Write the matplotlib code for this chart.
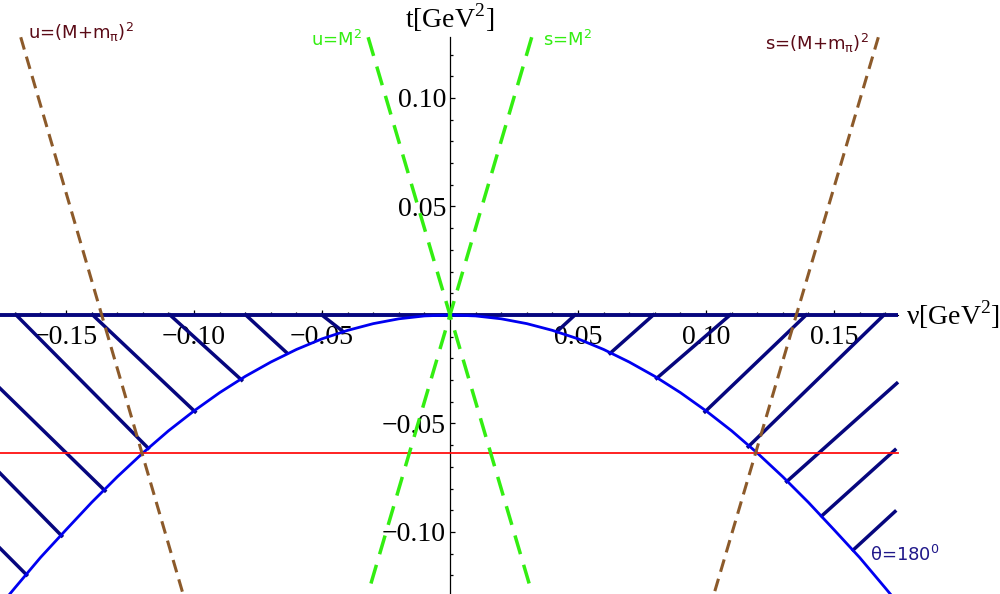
import numpy as np
import matplotlib
matplotlib.use("Agg")
import matplotlib.pyplot as plt

# ---------------------------------------------------------------------------
# data (nu, t in GeV^2)
# ---------------------------------------------------------------------------
# theta = 180 deg boundary, one half (mirrored for nu < 0)
nu_half = [0.00, 0.01, 0.02, 0.03, 0.04, 0.05, 0.06, 0.07, 0.08, 0.09,
           0.10, 0.11, 0.12, 0.13, 0.14, 0.15, 0.16, 0.17, 0.18]
t_half = [0.0, -0.00044, -0.00177, -0.0040, -0.0071, -0.0110, -0.0159,
          -0.0217, -0.0283, -0.0358, -0.0442, -0.0534, -0.0636, -0.0746,
          -0.0864, -0.0990, -0.1118, -0.1258, -0.1400]

# threshold lines (top end, bottom end)
u_thr_nu = [-0.1677, -0.1043]
u_thr_t = [0.128, -0.1286]
s_thr_nu = [0.1673, 0.1031]
s_thr_t = [0.128, -0.1286]
u_pole_nu = [-0.0320, 0.0321]
u_pole_t = [0.128, -0.1286]
s_pole_nu = [0.0319, -0.0321]
s_pole_t = [0.128, -0.1286]

t_red = -0.0637

# hatch strokes: start (nu, t) -> end (nu, t)
hatch_nu0 = [-0.1695, -0.1396, -0.1094, -0.0798, -0.0501, -0.1758, -0.1758, -0.1758,
             0.0488, 0.0794, 0.1094, 0.1391, 0.1695, 0.1745, 0.1738, 0.1738]
hatch_t0 = [0.0, 0.0, 0.0, 0.0, 0.0, -0.0338, -0.0729, -0.1075,
            0.0, 0.0, 0.0, 0.0, 0.0, -0.0315, -0.0622, -0.0906]
hatch_nu1 = [-0.1179, -0.0996, -0.0814, -0.0638, -0.0417, -0.1348, -0.1517, -0.1654,
             0.0417, 0.0625, 0.0807, 0.0996, 0.1165, 0.1315, 0.1452, 0.1575]
hatch_t1 = [-0.0614, -0.0446, -0.0300, -0.0174, -0.0077, -0.0810, -0.1018, -0.1198,
            -0.0077, -0.0177, -0.0292, -0.0446, -0.0607, -0.0768, -0.0926, -0.1083]

x_major = [-0.15, -0.10, -0.05, 0.05, 0.10, 0.15]
x_labels = ["\u22120.15", "\u22120.10", "\u22120.05", "0.05", "0.10", "0.15"]
y_major = [-0.10, -0.05, 0.05, 0.10]
y_labels = ["\u22120.10", "\u22120.05", "0.05", "0.10"]

NU_MIN, NU_MAX = -0.1758, 0.175
T_MIN, T_MAX = -0.1286, 0.128

NAVY = "#06067e"
BLUE = "#0000f0"
GREEN = "#33ee11"
BROWN = "#8c5a2a"
MAROON = "#5a0a16"

plt.rcParams["mathtext.fontset"] = "dejavusans"

fig = plt.figure(figsize=(10, 5.94), dpi=100)
ax = fig.add_axes([0, 0, 1, 1])
ax.set_xlim(NU_MIN, NU_MIN + 1000 / 2560)
ax.set_ylim(T_MIN, 315 / 2170)

# axes through the origin
for side in ["top", "right"]:
    ax.spines[side].set_visible(False)
ax.spines["left"].set_position("zero")
ax.spines["bottom"].set_position("zero")
ax.spines["left"].set_bounds(T_MIN, T_MAX)
ax.spines["bottom"].set_bounds(NU_MIN, NU_MAX)
ax.spines["left"].set_linewidth(0.9)

ax.set_xticks(x_major)
ax.set_xticklabels(x_labels)
ax.set_yticks(y_major)
ax.set_yticklabels(y_labels)
xminor = [v for v in np.round(np.arange(-0.17, 0.171, 0.01), 2) if v not in x_major and v != 0]
yminor = [v for v in np.round(np.arange(-0.12, 0.121, 0.01), 2) if v not in y_major and v != 0]
ax.set_xticks(xminor, minor=True)
ax.set_yticks(yminor, minor=True)
for lab in ax.get_xticklabels() + ax.get_yticklabels():
    lab.set_family("Liberation Serif")
    lab.set_fontsize(20)
ax.tick_params(axis="x", which="both", direction="in", pad=7, width=0.9)
ax.tick_params(axis="y", which="both", direction="in", pad=3, width=0.9)
ax.tick_params(which="major", length=3.5)
ax.tick_params(which="minor", length=2.3)

# nu axis drawn as thick navy line
ax.plot([NU_MIN, NU_MAX], [0, 0], color=NAVY, lw=2.8, zorder=3, solid_capstyle="butt")

# hatching
for a, b, c, d in zip(hatch_nu0, hatch_t0, hatch_nu1, hatch_t1):
    ax.plot([a, c], [b, d], color=NAVY, lw=2.5, zorder=3)

# theta = 180 boundary
nu_curve = np.concatenate([-np.array(nu_half[::-1]), np.array(nu_half[1:])])
t_curve = np.concatenate([np.array(t_half[::-1]), np.array(t_half[1:])])
ax.plot(nu_curve, t_curve, color=BLUE, lw=2.0, zorder=4)

# red line
ax.plot([NU_MIN, NU_MAX], [t_red, t_red], color="#ff1010", lw=1.3, zorder=4)

# threshold / pole lines
ax.plot(u_thr_nu, u_thr_t, color=BROWN, lw=2.2, dashes=(4.2, 2.4), zorder=5)
ax.plot(s_thr_nu, s_thr_t, color=BROWN, lw=2.2, dashes=(4.2, 2.4), zorder=5)
ax.plot(u_pole_nu, u_pole_t, color=GREEN, lw=2.5, dashes=(5.6, 3.2), zorder=5)
ax.plot(s_pole_nu, s_pole_t, color=GREEN, lw=2.5, dashes=(5.6, 3.2), zorder=5)

# labels
lab_kw = dict(fontsize=13, family="DejaVu Sans", va="center")
ax.text(-0.1648, 0.1300, r"u=(M+m$_{\mathregular{\pi}}$)$^{\mathregular{2}}$", color=MAROON, ha="left", **lab_kw)
ax.text(-0.0344, 0.1267, r"u=M$^{\mathregular{2}}$", color=GREEN, ha="right", **lab_kw)
ax.text(0.0363, 0.1267, r"s=M$^{\mathregular{2}}$", color=GREEN, ha="left", **lab_kw)
ax.text(0.1230, 0.1253, r"s=(M+m$_{\mathregular{\pi}}$)$^{\mathregular{2}}$", color=MAROON, ha="left", **lab_kw)
ax.text(0.1640, -0.1106, r"θ=180$^{\mathregular{0}}$", color="#20188a", ha="left", **lab_kw)

ax.text(0.0, 0.137, r"t[GeV$^{\mathregular{2}}$]", fontsize=20, family="Liberation Serif",
        ha="center", va="center")
ax.text(0.178, 0.0, r"ν[GeV$^{\mathregular{2}}$]", fontsize=20, family="Liberation Serif",
        ha="left", va="center")

fig.savefig("out.png", dpi=100)
